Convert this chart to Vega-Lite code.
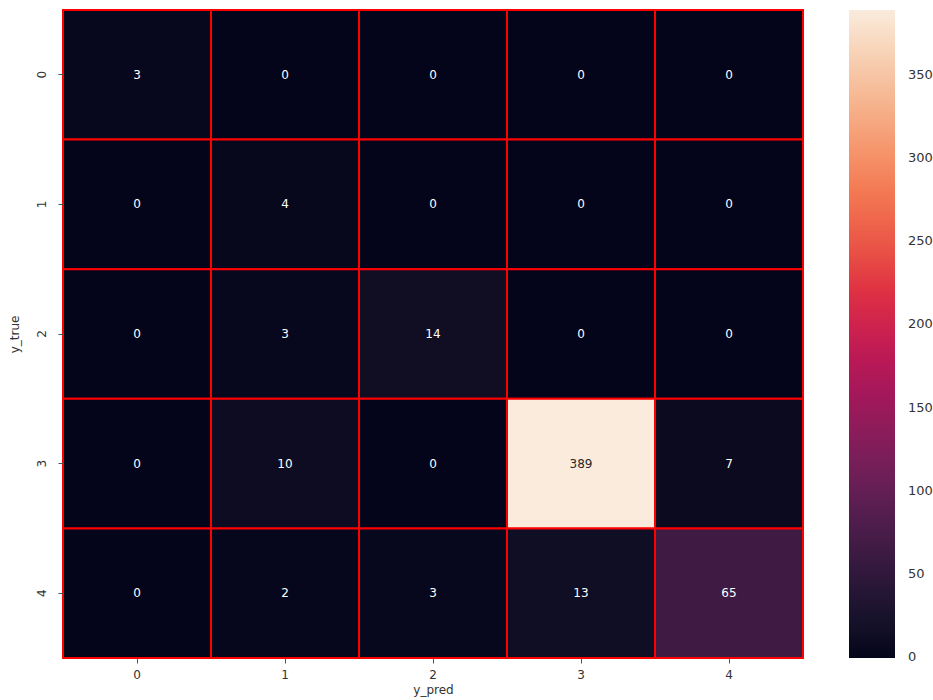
{
  "$schema": "https://vega.github.io/schema/vega-lite/v6.json",
  "autosize": {"type": "none"},
  "padding": {"left": 63, "top": 10, "right": 130, "bottom": 42},
  "width": 740,
  "height": 648,
  "background": "white",
  "config": {"view": {"stroke": null}, "font": "DejaVu Sans"},
  "data": {"values": [
    {"y_true": "0", "y_pred": "0", "count": 3},
    {"y_true": "0", "y_pred": "1", "count": 0},
    {"y_true": "0", "y_pred": "2", "count": 0},
    {"y_true": "0", "y_pred": "3", "count": 0},
    {"y_true": "0", "y_pred": "4", "count": 0},
    {"y_true": "1", "y_pred": "0", "count": 0},
    {"y_true": "1", "y_pred": "1", "count": 4},
    {"y_true": "1", "y_pred": "2", "count": 0},
    {"y_true": "1", "y_pred": "3", "count": 0},
    {"y_true": "1", "y_pred": "4", "count": 0},
    {"y_true": "2", "y_pred": "0", "count": 0},
    {"y_true": "2", "y_pred": "1", "count": 3},
    {"y_true": "2", "y_pred": "2", "count": 14},
    {"y_true": "2", "y_pred": "3", "count": 0},
    {"y_true": "2", "y_pred": "4", "count": 0},
    {"y_true": "3", "y_pred": "0", "count": 0},
    {"y_true": "3", "y_pred": "1", "count": 10},
    {"y_true": "3", "y_pred": "2", "count": 0},
    {"y_true": "3", "y_pred": "3", "count": 389},
    {"y_true": "3", "y_pred": "4", "count": 7},
    {"y_true": "4", "y_pred": "0", "count": 0},
    {"y_true": "4", "y_pred": "1", "count": 2},
    {"y_true": "4", "y_pred": "2", "count": 3},
    {"y_true": "4", "y_pred": "3", "count": 13},
    {"y_true": "4", "y_pred": "4", "count": 65}
  ]},
  "encoding": {
    "x": {"field": "y_pred", "type": "ordinal", "scale": {"paddingInner": 0, "paddingOuter": 0},
      "axis": {"title": "y_pred", "labelAngle": 0, "labelFontSize": 12, "labelColor": "#333", "tickColor": "#555", "tickSize": 5, "labelPadding": 6, "domain": false, "titleFontSize": 12, "titleFontWeight": "normal", "titleColor": "#333", "titlePadding": 4}},
    "y": {"field": "y_true", "type": "ordinal", "scale": {"paddingInner": 0, "paddingOuter": 0},
      "axis": {"title": "y_true", "labelAngle": -90, "labelFontSize": 12, "labelColor": "#333", "tickColor": "#555", "tickSize": 5, "labelPadding": 10, "domain": false, "titleFontSize": 12, "titleFontWeight": "normal", "titleColor": "#333", "titlePadding": 14}}
  },
  "layer": [
    {
      "mark": {"type": "rect", "stroke": "#ff0000", "strokeWidth": 2},
      "encoding": {
        "color": {"field": "count", "type": "quantitative",
          "scale": {"domain": [-0.5, 389], "range": ["#03051a", "#35193e", "#701f57", "#ad1759", "#e13342", "#f37651", "#f6b48f", "#faebdd"]},
          "legend": {"title": null, "orient": "none", "legendX": 786, "legendY": 0, "direction": "vertical", "gradientLength": 648, "gradientThickness": 46, "values": [0, 50, 100, 150, 200, 250, 300, 350], "labelFontSize": 13, "labelColor": "#333", "labelOffset": 13, "labelBaseline": "middle", "gradientStrokeWidth": 0}}
      }
    },
    {
      "mark": {"type": "text", "fontSize": 12},
      "encoding": {
        "text": {"field": "count", "type": "quantitative"},
        "color": {"condition": {"test": "datum.count > 200", "value": "#262626"}, "value": "white"}
      }
    }
  ]
}
